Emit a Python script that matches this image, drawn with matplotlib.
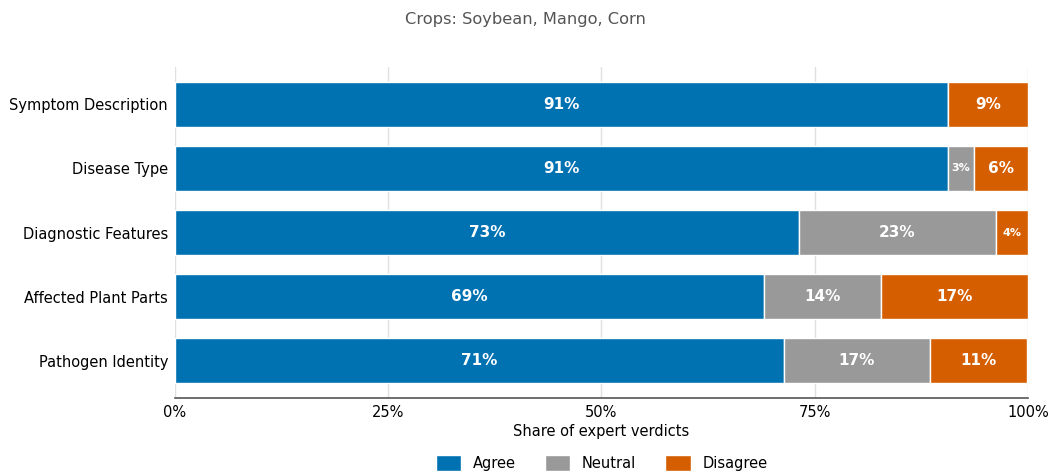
import matplotlib
matplotlib.use("Agg")
import matplotlib.pyplot as plt
import numpy as np

# Expert verdict shares (percent), top row first
aspects = ["Symptom Description", "Disease Type", "Diagnostic Features",
           "Affected Plant Parts", "Pathogen Identity"]
agree = [90.6, 90.6, 73.1, 69.0, 71.4]
neutral = [0.0, 3.1, 23.1, 13.8, 17.1]
disagree = [9.4, 6.3, 3.8, 17.2, 11.4]

categories = ["Agree", "Neutral", "Disagree"]
colors = ["#0072B2", "#999999", "#D55E00"]

fig = plt.figure(figsize=(10.5, 4.75), dpi=100)
ax = fig.add_axes([0.1667, 0.162, 0.8123, 0.697])

y = np.arange(len(aspects))[::-1]
left = np.zeros(len(aspects))
for name, vals, col in zip(categories, [agree, neutral, disagree], colors):
    vals = np.array(vals)
    ax.barh(y, vals, left=left, height=0.7, color=col, edgecolor="white",
            linewidth=1, label=name, zorder=2)
    for yi, l, v in zip(y, left, vals):
        if v <= 0:
            continue
        fs = 11 if v >= 6 else 8
        ax.text(l + v / 2, yi, f"{v:.0f}%", ha="center", va="center",
                color="white", fontsize=fs, fontweight="bold", zorder=3)
    left += vals

ax.set_xlim(0, 100)
ax.set_xticks([0, 25, 50, 75, 100])
ax.set_xticklabels(["0%", "25%", "50%", "75%", "100%"], fontsize=10.5)
ax.set_yticks(y)
ax.set_yticklabels(aspects, fontsize=10.5)
ax.tick_params(length=0, pad=5)
ax.grid(axis="x", color="#e0e0e0", linewidth=1, zorder=0)
ax.set_axisbelow(True)
for s in ["top", "right", "left"]:
    ax.spines[s].set_visible(False)
ax.spines["bottom"].set_color("#555555")
ax.spines["bottom"].set_linewidth(1.2)
ax.set_xlabel("Share of expert verdicts", fontsize=10.5, labelpad=3)

fig.suptitle("Crops: Soybean, Mango, Corn", fontsize=11.7, color="#555555", y=0.975)
fig.legend(loc="lower center", bbox_to_anchor=(0.573, -0.02), ncol=3,
           frameon=False, fontsize=10.5, handlelength=1.75, handleheight=1.4,
           columnspacing=2.0)

fig.savefig("out.png", dpi=100)
